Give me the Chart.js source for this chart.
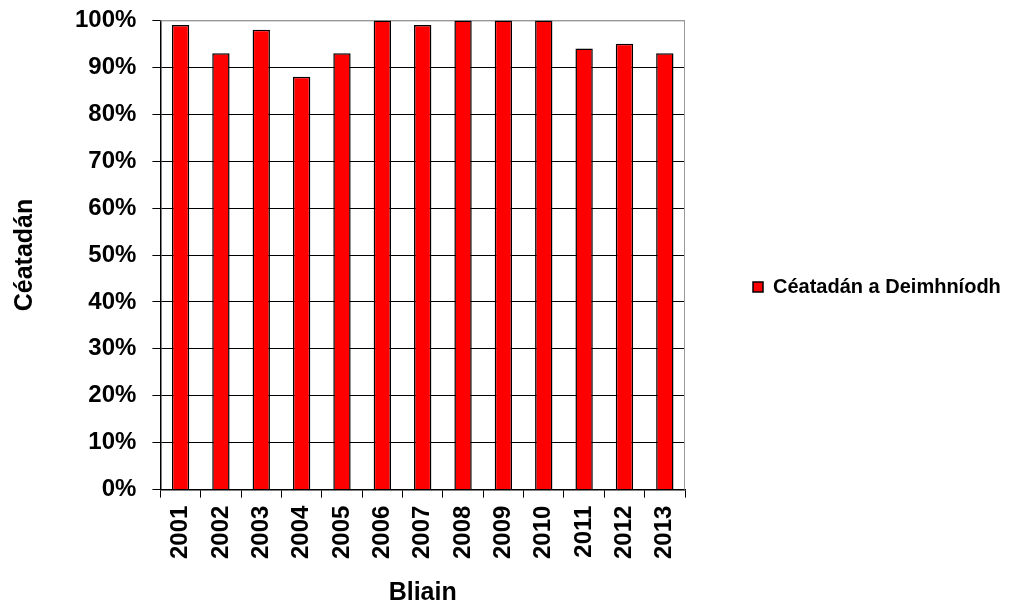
<!DOCTYPE html>
<html>
<head>
<meta charset="utf-8">
<script src="https://cdn.jsdelivr.net/npm/chart.js@4"></script>
<style>
  body { margin: 0; background: #fff; }
  #wrap { width: 1010px; height: 608px; }
</style>
</head>
<body>
<div id="wrap"><canvas id="chart"></canvas></div>
<script>
const years = ["2001", "2002", "2003", "2004", "2005", "2006", "2007", "2008", "2009", "2010", "2011", "2012", "2013"];
const certified = [99, 93, 98, 88, 93, 100, 99, 100, 100, 100, 94, 95, 93];
const seriesName = "Céatadán a Deimhníodh";
const yTitle = "Céatadán";
const xTitle = "Bliain";

const family = "'Liberation Sans', Arial, sans-serif";
const tickFont = { family: family, weight: "bold", size: 24 };
const titleFont = { family: family, weight: "bold", size: 25 };

// grey frame on top and right of the plot
const frame = {
  id: "frame",
  beforeDatasetsDraw(chart) {
    const { ctx, chartArea } = chart;
    ctx.save();
    ctx.strokeStyle = "#999";
    ctx.lineWidth = 1;
    ctx.beginPath();
    ctx.moveTo(chartArea.left, chartArea.top + 0.5);
    ctx.lineTo(chartArea.right - 0.5, chartArea.top + 0.5);
    ctx.lineTo(chartArea.right - 0.5, chartArea.bottom);
    ctx.stroke();
    ctx.restore();
  }
};

// keep the legend column wide so the plot ends where the original does,
// and lift it a little above the page centre
const legendBox = {
  id: "legendBox",
  beforeInit(chart) {
    const fit = chart.legend.fit;
    chart.legend.fit = function () {
      fit.bind(this)();
      this.width = 325;
    };
  },
  afterLayout(chart) {
    chart.legend.bottom -= 34;
    chart.legend.height -= 34;
  }
};

new Chart(document.getElementById("chart"), {
  type: "bar",
  data: {
    labels: years,
    datasets: [{
      label: seriesName,
      data: certified,
      backgroundColor: "#ff0000",
      borderColor: "#000",
      borderWidth: 1.5,
      barPercentage: 0.43,
      categoryPercentage: 1
    }]
  },
  options: {
    responsive: true,
    maintainAspectRatio: false,
    animation: false,
    layout: { padding: { left: 10, top: 0, bottom: 0 } },
    plugins: {
      legend: {
        position: "right",
        labels: {
          boxWidth: 10,
          boxHeight: 10,
          padding: 68,
          color: "#000",
          font: { family: family, weight: "bold", size: 20 }
        }
      },
      tooltip: { enabled: false }
    },
    scales: {
      x: {
        grid: { drawOnChartArea: false, color: "#000", tickLength: 8, offset: true },
        border: { color: "#000", width: 1.5 },
        ticks: { color: "#000", font: tickFont, minRotation: 90, maxRotation: 90, padding: 8 },
        title: { display: true, text: xTitle, color: "#000", font: titleFont, padding: { top: 11, bottom: 0 } }
      },
      y: {
        min: 0,
        max: 100,
        grid: {
          color: (c) => c.tick && c.tick.value === 100 ? "#999" : "#000",
          tickColor: "#000",
          tickLength: 18,
          tickBorderDash: [0, 10, 8, 0],
          lineWidth: 1
        },
        border: { color: "#000", width: 1.5 },
        ticks: {
          stepSize: 10,
          color: "#000",
          font: tickFont,
          padding: 6,
          callback: (v) => v + "%"
        },
        title: { display: true, text: yTitle, color: "#000", font: titleFont, padding: { top: 0, bottom: 29 } }
      }
    }
  },
  plugins: [frame, legendBox]
});
</script>
</body>
</html>
